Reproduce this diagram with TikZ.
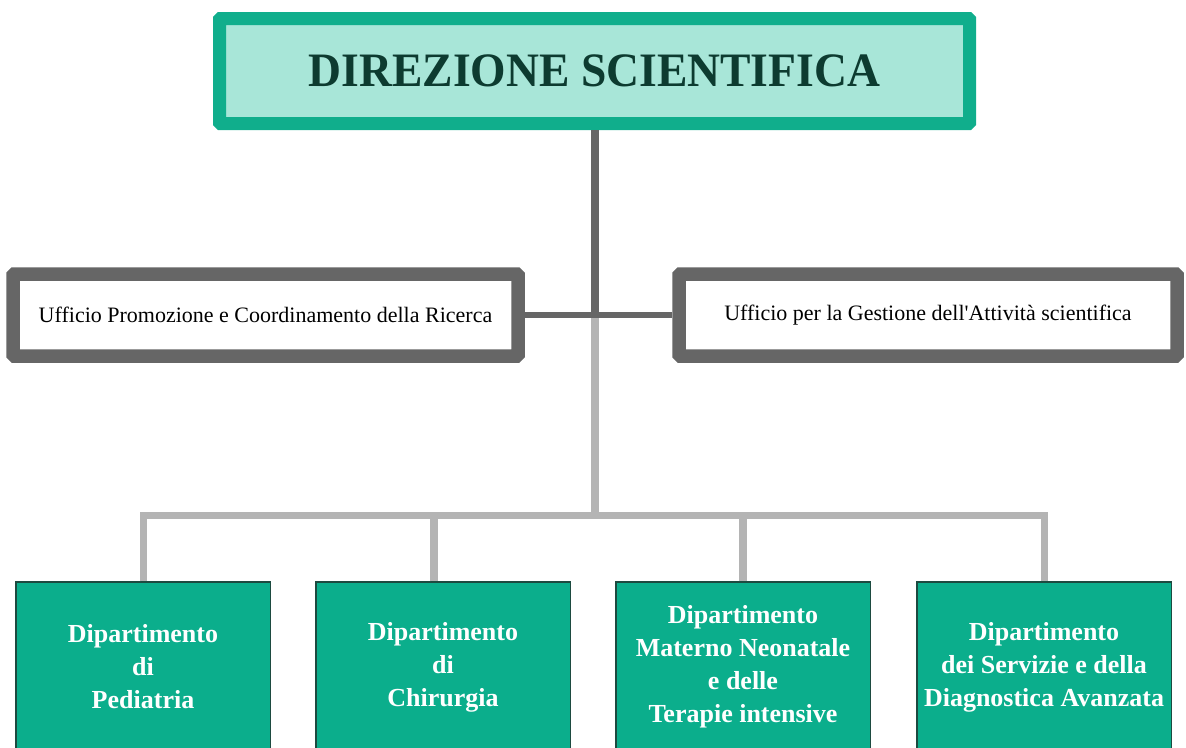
\documentclass[tikz,border=0pt]{standalone}
\usepackage{fontspec}
\usepackage{graphicx}
\setmainfont{Liberation Serif}
\newfontfamily\officefont{Liberation Serif}
\definecolor{topborder}{HTML}{10AE8C}
\definecolor{topfill}{HTML}{A8E6D8}
\definecolor{toptext}{HTML}{0D3B30}
\definecolor{deptfill}{HTML}{0BAE8C}
\definecolor{deptborder}{HTML}{1D4A40}
\definecolor{darkgray}{HTML}{666666}
\definecolor{lightgray}{HTML}{B4B4B4}
\tikzset{
  topbox/.style={draw=topborder, fill=topfill, line width=13pt, rounded corners=1pt,
    minimum width=750pt, minimum height=105pt, inner sep=0pt,
    text=toptext, font=\fontsize{48}{56}\selectfont\bfseries},
  officebox/.style={draw=darkgray, fill=white, line width=13.5pt, rounded corners=1.5pt,
    minimum height=82pt, inner sep=0pt, font=\officefont\fontsize{22}{26}\selectfont},
  deptbox/.style={draw=deptborder, fill=deptfill, line width=1.5pt,
    minimum width=254.5pt, minimum height=170pt, inner sep=0pt, align=center,
    text=white, font=\fontsize{26}{33}\selectfont\bfseries},
  darkline/.style={draw=darkgray, line width=#1},
  lightline/.style={draw=lightgray, line width=#1},
}
\begin{document}
\begin{tikzpicture}[x=1pt, y=-1pt]
\useasboundingbox (0,0) rectangle (1186,747);
% boxes
\node[topbox] (top) at (594.5,71) {\scalebox{0.95}[1]{DIREZIONE SCIENTIFICA}};
\node[officebox, minimum width=505pt] (ufl) at (265.5,315) {Ufficio Promozione e Coordinamento della Ricerca};
\node[officebox, minimum width=498pt] (ufr) at (928,315) {Ufficio per la Gestione dell'Attività scientifica};
\coordinate (j1) at (594.5,315);
\coordinate (j2) at (594.5,515.5);
\node[deptbox] (d1) at (143,667) {Dipartimento\\di\\Pediatria};
\node[deptbox] (d2) at (443,667) {Dipartimento\\di\\Chirurgia};
\node[deptbox] (d3) at (743,667) {Dipartimento\\Materno Neonatale\\e delle\\Terapie intensive};
\node[deptbox] (d4) at (1044,667) {Dipartimento\\dei Servizie e della\\Diagnostica Avanzata};
% light connectors
\draw[lightline=8pt] (j1) -- (j2);
\draw[lightline=7pt, line join=miter] (d1.north) |- (d4.north |- j2) -- (d4.north);
\draw[lightline=8pt] ([xshift=-9pt]d2.north) -- ([xshift=-9pt]d2.north |- j2);
\draw[lightline=8pt] (d3.north) -- (d3.north |- j2);
% dark connectors
\draw[darkline=8pt] (top.south -| j1) -- (j1);
\draw[darkline=6.5pt] (ufl.east) -- (ufr.west);
\end{tikzpicture}
\end{document}
